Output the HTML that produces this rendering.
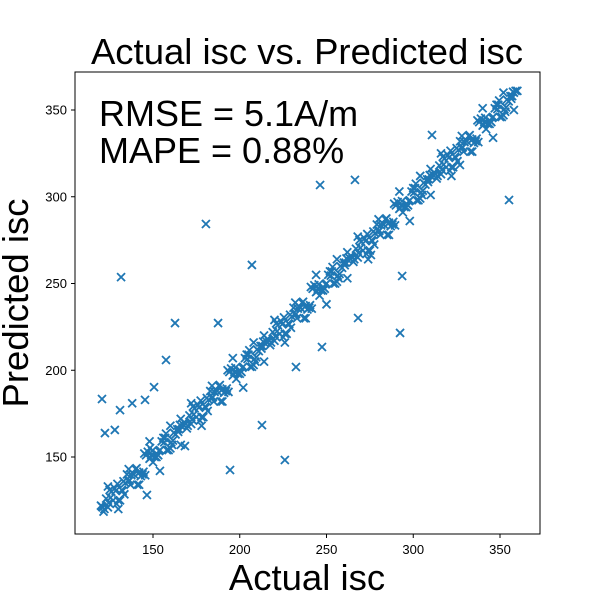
<!DOCTYPE html>
<html><head><meta charset="utf-8"><style>
body{margin:0;background:#fff;}
svg text{font-family:"Liberation Sans","DejaVu Sans",sans-serif;}
</style></head><body>
<svg id="chart" width="600" height="600" xmlns="http://www.w3.org/2000/svg">
<rect width="600" height="600" fill="#fff"/>
<text x="307" y="64" font-size="36.5" text-anchor="middle">Actual isc vs. Predicted isc</text>
<g id="marks"></g>
<rect x="75" y="72" width="465" height="462" fill="none" stroke="#000" stroke-width="1"/>
<g id="xticks"></g>
<g id="yticks"></g>
<text x="307" y="590" font-size="36.5" text-anchor="middle">Actual isc</text>
<text transform="translate(28,303) rotate(-90)" font-size="36.5" text-anchor="middle">Predicted isc</text>
<text x="99" y="126" font-size="36">RMSE = 5.1A/m</text>
<text x="99" y="163" font-size="36">MAPE = 0.88%</text>
</svg>
<script>
const actualVals=[120,124,128,132,136,140,144,148,152,156,160,164,168,172,176,180,184,188,192,196,200,204,208,212,216,220,224,228,232,236,240,244,248,252,256,260,264,268,272,276,280,284,288,292,296,300,304,308,312,316,320,324,328,332,336,340,344,348,352,356,360,
122,126,130,134,138,142,146,150,154,158,162,166,170,174,178,182,186,190,194,198,202,206,210,214,218,222,226,230,234,238,242,246,250,254,258,262,266,270,274,278,282,286,290,294,298,302,306,310,314,318,322,326,330,334,338,342,346,350,354,358,
121,125,129,133,137,141,145,149,153,157,161,165,169,173,177,181,185,189,193,197,201,205,209,213,217,221,225,229,233,237,241,245,249,253,257,261,265,269,273,277,281,285,289,293,297,301,305,309,313,317,321,325,329,333,337,341,345,349,353,357,
123,127,131,135,139,143,147,151,155,159,163,167,171,175,179,183,187,191,195,199,203,207,211,215,219,223,227,231,235,239,243,247,251,255,259,263,267,271,275,279,283,287,291,295,299,303,307,311,315,319,323,327,331,335,339,343,347,351,355,359,
121.5,125.5,129.5,133.5,137.5,141.5,145.5,149.5,153.5,157.5,161.5,165.5,169.5,173.5,177.5,181.5,185.5,189.5,193.5,197.5,201.5,205.5,209.5,213.5,217.5,221.5,225.5,229.5,233.5,237.5,241.5,245.5,249.5,253.5,257.5,261.5,265.5,269.5,273.5,277.5,281.5,285.5,289.5,293.5,297.5,301.5,305.5,309.5,313.5,317.5,321.5,325.5,329.5,333.5,337.5,341.5,345.5,349.5,353.5,357.5,
120.5,124.5,128.5,132.5,136.5,140.5,144.5,148.5,152.5,156.5,160.5,164.5,168.5,172.5,176.5,180.5,184.5,188.5,192.5,196.5,200.5,204.5,208.5,212.5,216.5,220.5,224.5,228.5,232.5,236.5,240.5,244.5,248.5,252.5,256.5,260.5,264.5,268.5,272.5,276.5,280.5,284.5,288.5,292.5,296.5,300.5,304.5,308.5,312.5,316.5,320.5,324.5,328.5,332.5,336.5,340.5,344.5,348.5,352.5,356.5,
124,130,136,142,148,154,160,166,172,178,184,190,196,202,208,214,220,226,232,238,244,250,256,262,268,274,280,286,292,298,304,310,316,322,328,334,340,346,352,358,
120.6,131.6,122.3,128,131,138,145.4,150.6,157.5,180.5,355.2,246.3,266.4,292.4,293.6,226,232.4,247.4,268.2,162.7,212.8,194.4,146.5,148.3,310.8,326.9,187.5,168.4,207,275.6];
const predVals=[122,121,132,131,136,143,140,149,150,161,155,166,170,169,180,179,184,191,188,197,198,209,203,214,218,217,228,227,232,239,236,245,246,257,251,262,266,265,276,275,280,287,284,293,294,305,299,310,314,313,324,323,328,335,332,341,342,353,347,358,361,
120,130,125,135,141,141,151,147,154,154,164,172,168,178,173,183,189,189,199,195,202,202,212,220,216,226,221,231,237,237,247,243,250,250,260,268,264,274,269,279,285,285,295,291,298,298,308,316,312,322,317,327,333,333,343,339,346,346,356,360,
121,131,123,136,134,134,152,151,151,161,157,166,169,179,171,184,182,182,200,199,199,209,205,214,217,227,219,232,230,230,248,247,247,257,253,262,265,275,267,280,278,278,296,295,295,305,301,310,313,323,315,328,326,326,344,343,343,353,349,358,
126,125,125,140,140,139,153,150,159,154,163,169,174,173,173,188,188,187,201,198,207,202,211,217,222,221,221,236,236,235,249,246,255,250,259,265,270,269,269,284,284,283,297,294,303,298,307,313,318,317,317,332,332,331,345,342,351,346,355,361,
118.5,126.5,134.5,128.5,139.5,140.5,139.5,153.5,153.5,163.5,159.5,168.5,166.5,174.5,182.5,176.5,187.5,188.5,187.5,201.5,201.5,211.5,207.5,216.5,214.5,222.5,230.5,224.5,235.5,236.5,235.5,249.5,249.5,259.5,255.5,264.5,262.5,270.5,278.5,272.5,283.5,284.5,283.5,297.5,297.5,307.5,303.5,312.5,310.5,318.5,326.5,320.5,331.5,332.5,331.5,345.5,345.5,355.5,351.5,360.5,
121.5,123.5,130.5,130.5,136.5,143.5,141.5,149.5,151.5,158.5,158.5,164.5,169.5,171.5,178.5,178.5,184.5,191.5,189.5,197.5,199.5,206.5,206.5,212.5,217.5,219.5,226.5,226.5,232.5,239.5,237.5,245.5,247.5,254.5,254.5,260.5,265.5,267.5,274.5,274.5,280.5,287.5,285.5,293.5,295.5,302.5,302.5,308.5,313.5,315.5,322.5,322.5,328.5,335.5,333.5,341.5,343.5,350.5,350.5,356.5,
133,120,143,134,159,142,168,157,181,168,191,182,207,190,216,205,229,216,239,230,255,238,264,253,277,264,287,278,303,286,312,301,325,312,335,326,351,334,360,350,
183.4,253.7,163.8,165.6,177,181,182.9,190.3,205.9,284.3,298.1,306.8,309.7,221.5,254.3,148.3,201.9,213.4,230.1,227.2,168.4,142.5,128.1,155.2,335.6,318.3,227.2,156.3,260.7,266.4];
const xTickVals=[150,200,250,300,350];
const yTickVals=[150,200,250,300,350];

const NS="http://www.w3.org/2000/svg";
function xs(v){return 153+(v-150)*1.735;}
function ys(v){return 457-(v-150)*1.735;}
const marks=document.getElementById('marks');
for(let i=0;i<actualVals.length;i++){
  const cx=xs(actualVals[i]),cy=ys(predVals[i]),r=4;
  const p=document.createElementNS(NS,'path');
  p.setAttribute('d',`M${cx-r},${cy-r}L${cx+r},${cy+r}M${cx-r},${cy+r}L${cx+r},${cy-r}`);
  p.setAttribute('stroke','#1f77b4');p.setAttribute('stroke-width','1.8');
  
  
  marks.appendChild(p);
}
const xt=document.getElementById('xticks');
xTickVals.forEach(v=>{
  const x=xs(v);
  const l=document.createElementNS(NS,'line');
  l.setAttribute('x1',x);l.setAttribute('x2',x);l.setAttribute('y1',534);l.setAttribute('y2',538);l.setAttribute('stroke','#000');
  
  
  xt.appendChild(l);
  const t=document.createElementNS(NS,'text');
  t.setAttribute('x',x);t.setAttribute('y',554);t.setAttribute('font-size','13');t.setAttribute('text-anchor','middle');
  t.textContent=v;
  
  
  xt.appendChild(t);
});
const yt=document.getElementById('yticks');
yTickVals.forEach(v=>{
  const y=ys(v);
  const l=document.createElementNS(NS,'line');
  l.setAttribute('x1',71);l.setAttribute('x2',75);l.setAttribute('y1',y);l.setAttribute('y2',y);l.setAttribute('stroke','#000');
  
  
  yt.appendChild(l);
  const t=document.createElementNS(NS,'text');
  t.setAttribute('x',67);t.setAttribute('y',y+4.5);t.setAttribute('font-size','13');t.setAttribute('text-anchor','end');
  t.textContent=v;
  
  
  yt.appendChild(t);
});
</script>
</body></html>
